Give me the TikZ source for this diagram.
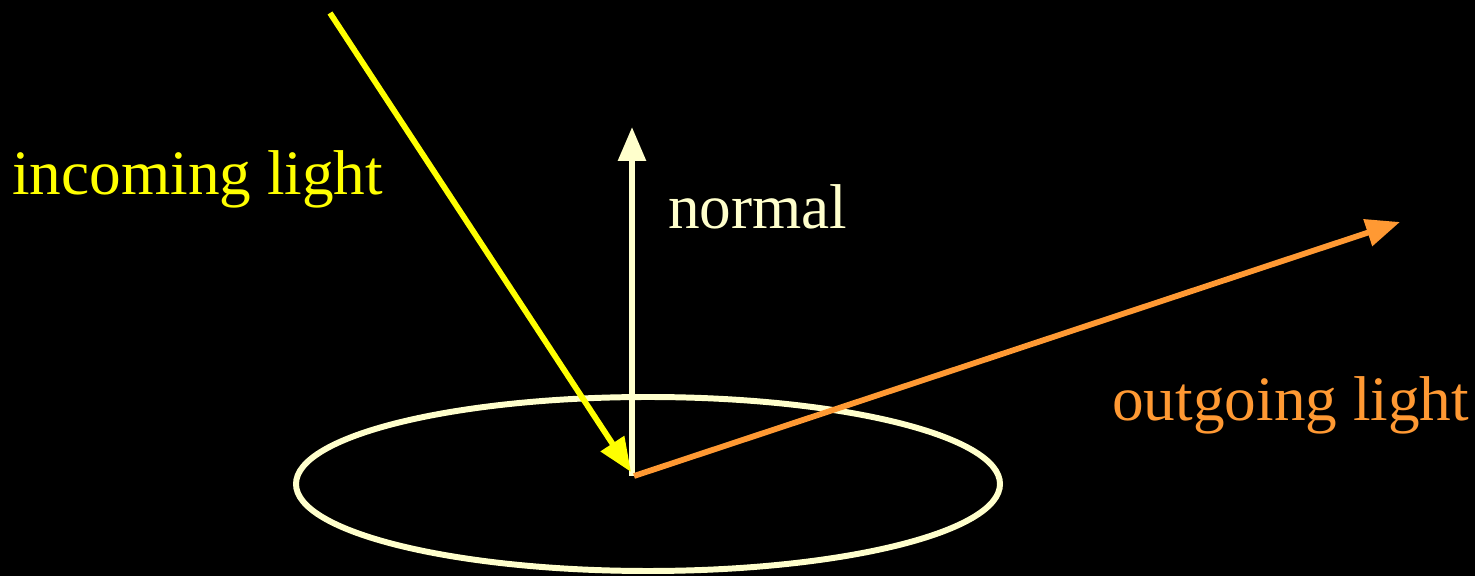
\documentclass[tikz,border=0pt]{standalone}
\usepackage{fontspec}
\setmainfont{Liberation Serif}
\usetikzlibrary{arrows.meta}

\definecolor{lightyellow}{HTML}{FFFF00}
\definecolor{cream}{HTML}{FFFFCC}
\definecolor{lightorange}{HTML}{FF9933}

\tikzset{
  ray/.style={line width=3.3pt, -{Triangle[length=0.68cm,width=0.54cm]}},
  lbl/.style={anchor=base west, inner sep=0pt, font=\fontsize{36}{40}\selectfont}
}

\begin{document}
\begin{tikzpicture}
      \fill[black] (0,0) rectangle (29.5,11.52);
      \useasboundingbox (0,0) rectangle (29.5,11.52);
      % surface patch
      \draw[cream, line width=3.4pt] (12.96,1.84) ellipse (7.04 and 1.74);
      \coordinate (hit)   at (12.64,2.0);
      \coordinate (inend) at (12.62,2.08);
      \coordinate (outst) at (12.68,2.0);
      \coordinate (src)   at (6.6,11.26);
      \coordinate (up)    at (12.64,8.98);
      \coordinate (away)  at (28.0,7.08);
      \draw[ray, cream] (hit) -- (up);
      \draw[ray, lightyellow] (src) -- (inend);
      \draw[ray, lightorange] (outst) -- (away);
      \node[lbl, lightyellow] (inlbl)  at (0.24,7.62) {incoming light};
      \node[lbl, cream]       (nlbl)   at (13.36,6.94) {normal};
      \node[lbl, lightorange] (outlbl) at (22.24,3.1) {outgoing light};
    \end{tikzpicture}
\end{document}
